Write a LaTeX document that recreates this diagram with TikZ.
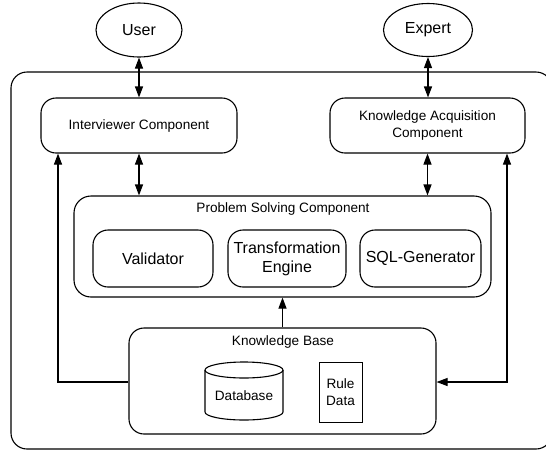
\documentclass[tikz,border=0pt]{standalone}
\usepackage{fontspec}
\setmainfont{Liberation Sans}
\usetikzlibrary{shapes.geometric,arrows.meta}
\begin{document}
\begin{tikzpicture}[x=1pt,y=-1pt,
  line width=1.1pt,
  small/.style={font=\fontsize{13.6}{16.5}\selectfont},
  big/.style={font=\fontsize{16}{19}\selectfont},
  actor/.style={draw,ellipse,inner sep=0pt,big},
  rbox/.style={draw,rectangle,rounded corners=15pt,inner sep=0pt,align=center},
  arr/.style={-{Triangle[length=11pt,width=8pt]}},
  darr/.style={{Triangle[length=11pt,width=8pt]}-{Triangle[length=11pt,width=8pt]}}
]
\useasboundingbox (0,0) rectangle (546,451);
\draw[rounded corners=16pt] (11,72) rectangle (552,449);
\node[actor,minimum width=86pt,minimum height=54pt] (user) at (139,30) {User};
\node[actor,minimum width=89pt,minimum height=53pt] (expert) at (428,30) {Expert};
\node[rbox,small,minimum width=196pt,minimum height=55pt] (interviewer) at (139,125.5) {Interviewer Component};
\node[rbox,small,minimum width=195pt,minimum height=55pt] (ka) at (427.5,125.5) {Knowledge Acquisition\\Component};
\node[rbox,rounded corners=17pt,minimum width=417pt,minimum height=101pt] (psc) at (282.5,246.5) {};
\node[small] (psclabel) at (283,209) {Problem Solving Component};
\node[rbox,big,minimum width=120pt,minimum height=57pt] (validator) at (153,258.5) {Validator};
\node[rbox,big,minimum width=118pt,minimum height=57pt] (trans) at (287,258.5) {Transformation\\Engine};
\node[rbox,big,minimum width=121pt,minimum height=57pt] (sql) at (420.5,258.5) {SQL-Generator};
\node[rbox,minimum width=307pt,minimum height=106pt] (kb) at (282.5,381) {};
\node[small] (kblabel) at (283,342) {Knowledge Base};
% database cylinder
\draw (205,370) -- (205,412) arc[start angle=180,end angle=360,x radius=39pt,y radius=8pt] -- (283,370);
\draw (244,370) ellipse[x radius=39pt,y radius=8pt];
\node[small] (db) at (244,396) {Database};
\node[draw,small,rectangle,minimum width=43pt,minimum height=60pt,inner sep=0pt,align=center,line width=0.9pt] (rule) at (340.5,392) {Rule\\Data};
% connectors
\draw[darr] (user.south) -- (user.south |- interviewer.north);
\draw[darr] (expert.south) -- (expert.south |- ka.north);
\draw[darr] (interviewer.south) -- (interviewer.south |- psc.north);
\draw[darr] (ka.south) -- (ka.south |- psc.north);
\draw[arr] (kb.north) -- (psc.south);
\coordinate (lft) at (58,382);
\coordinate (rgt) at (507,382);
\draw[arr] (kb.west |- lft) -- (lft) -- (lft |- interviewer.south);
\draw[darr] (rgt |- ka.south) -- (rgt) -- (kb.east |- rgt);
\end{tikzpicture}
\end{document}
